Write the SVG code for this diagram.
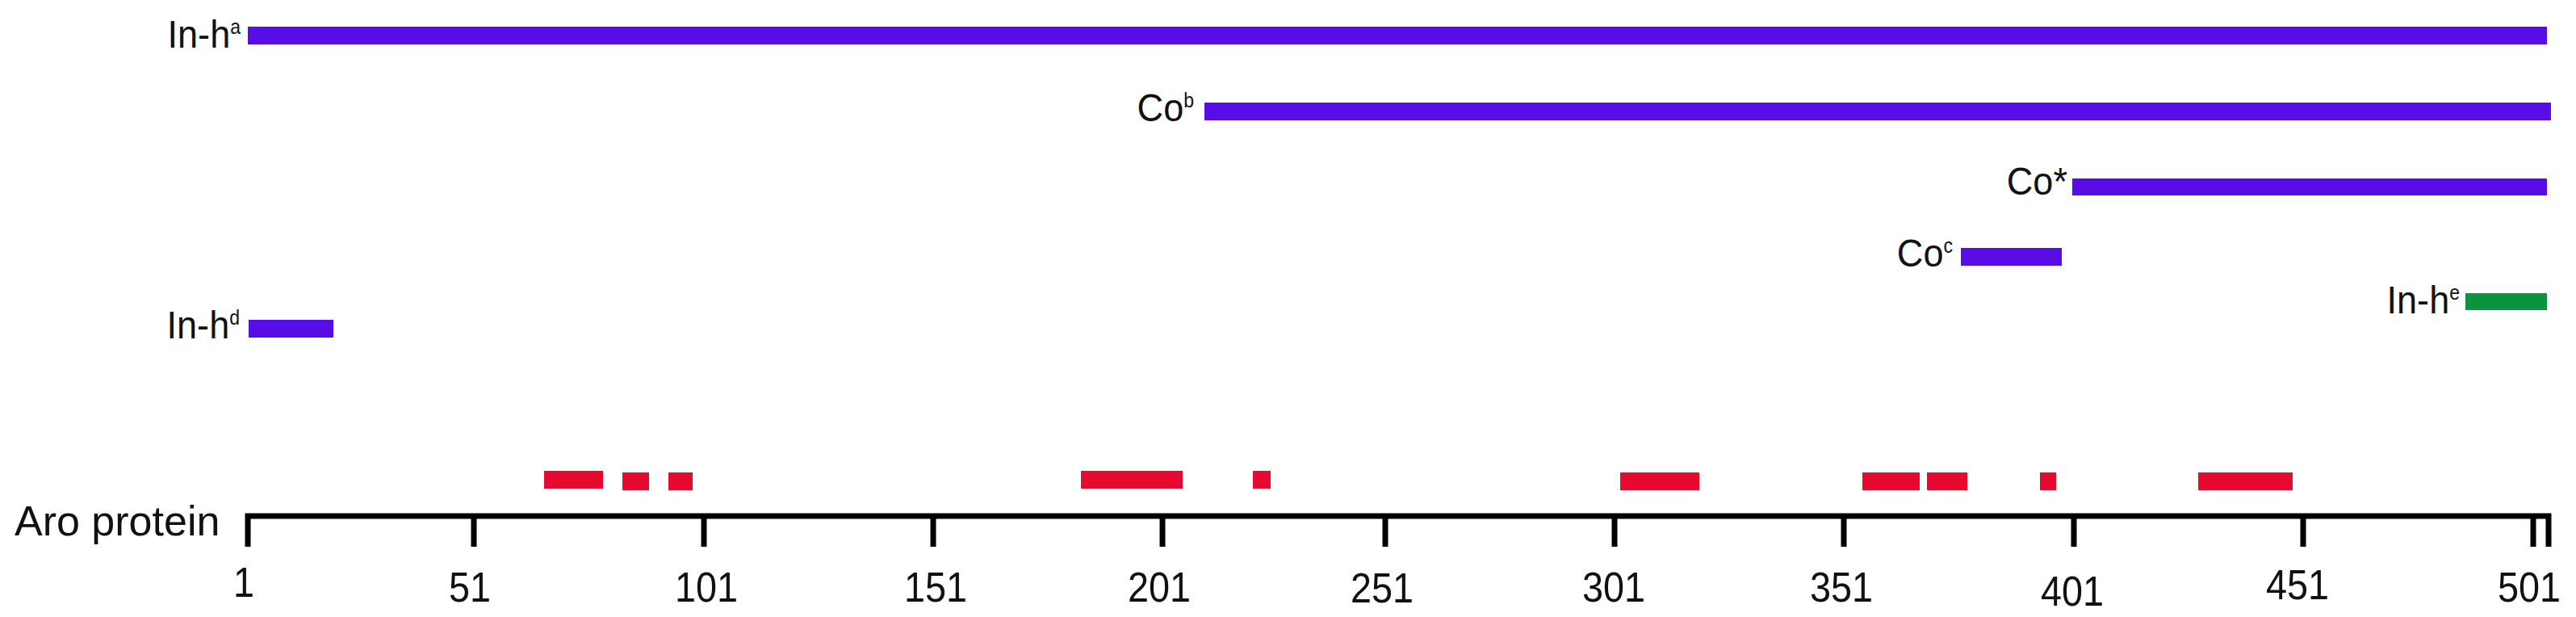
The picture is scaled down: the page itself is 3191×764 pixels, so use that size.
<svg xmlns="http://www.w3.org/2000/svg" width="3191" height="764" viewBox="0 0 3191 764">
<style>
.lbl{font-family:"Liberation Sans",Arial,sans-serif;font-size:49px;fill:#111;text-anchor:end}
.sup{font-size:25px}
.num{font-family:"Liberation Sans",Arial,sans-serif;font-size:52px;fill:#111;text-anchor:middle}
.pur{fill:#580DE6}
.grn{fill:#0B9340}
.red{fill:#E50A2E}
.ax{stroke:#000;stroke-width:7;fill:none}
</style>
<rect width="3191" height="764" fill="#fff"/>
<g id="inh-a">
<rect class="pur" x="307" y="33" width="2848" height="22"/>
<text class="lbl" transform="translate(298,59) scale(0.92,1)">In-h<tspan class="sup" dy="-17">a</tspan></text>
</g>
<g id="co-b">
<rect class="pur" x="1492" y="127" width="1668" height="22"/>
<text class="lbl" transform="translate(1479,150) scale(0.92,1)">Co<tspan class="sup" dy="-17">b</tspan></text>
</g>
<g id="co-star">
<rect class="pur" x="2567" y="221" width="588" height="21"/>
<text class="lbl" transform="translate(2561,241) scale(0.92,1)">Co*</text>
</g>
<g id="co-c">
<rect class="pur" x="2429" y="307" width="125" height="22"/>
<text class="lbl" transform="translate(2419,330) scale(0.92,1)">Co<tspan class="sup" dy="-17">c</tspan></text>
</g>
<g id="inh-e">
<rect class="grn" x="3054" y="363" width="101" height="21"/>
<text class="lbl" transform="translate(3047,388) scale(0.92,1)">In-h<tspan class="sup" dy="-17">e</tspan></text>
</g>
<g id="inh-d">
<rect class="pur" x="308" y="396" width="105" height="22"/>
<text class="lbl" transform="translate(297,419) scale(0.92,1)">In-h<tspan class="sup" dy="-17">d</tspan></text>
</g>
<g id="domains">
<rect class="red" x="674" y="583" width="73" height="22"/>
<rect class="red" x="771" y="585" width="33" height="22"/>
<rect class="red" x="828" y="585" width="30" height="22"/>
<rect class="red" x="1339" y="583" width="126" height="22"/>
<rect class="red" x="1552" y="583" width="22" height="22"/>
<rect class="red" x="2007" y="585" width="98" height="22"/>
<rect class="red" x="2307" y="585" width="71" height="22"/>
<rect class="red" x="2387" y="585" width="50" height="22"/>
<rect class="red" x="2527" y="585" width="20" height="22"/>
<rect class="red" x="2723" y="585" width="117" height="22"/>
</g>
<g id="axis">
<text class="lbl" style="font-size:52px;text-anchor:start" x="18" y="663">Aro protein</text>
<path class="ax" d="M307,677 V639 H3157 V677"/>
<path class="ax" d="M587,639V677 M872,639V677 M1156,639V677 M1440,639V677 M1716,639V677 M2000,639V677 M2284,639V677 M2569,639V677 M2853,639V677 M3138,639V677"/>
<text class="num" transform="translate(302,739) scale(0.9,1)">1</text>
<text class="num" transform="translate(582,745) scale(0.9,1)">51</text>
<text class="num" transform="translate(875,745) scale(0.9,1)">101</text>
<text class="num" transform="translate(1159,745) scale(0.9,1)">151</text>
<text class="num" transform="translate(1436,745) scale(0.9,1)">201</text>
<text class="num" transform="translate(1712,746) scale(0.9,1)">251</text>
<text class="num" transform="translate(1999,745) scale(0.9,1)">301</text>
<text class="num" transform="translate(2281,745) scale(0.9,1)">351</text>
<text class="num" transform="translate(2567,750) scale(0.9,1)">401</text>
<text class="num" transform="translate(2846,742) scale(0.9,1)">451</text>
<text class="num" transform="translate(3133,745) scale(0.9,1)">501</text>
</g>
</svg>
